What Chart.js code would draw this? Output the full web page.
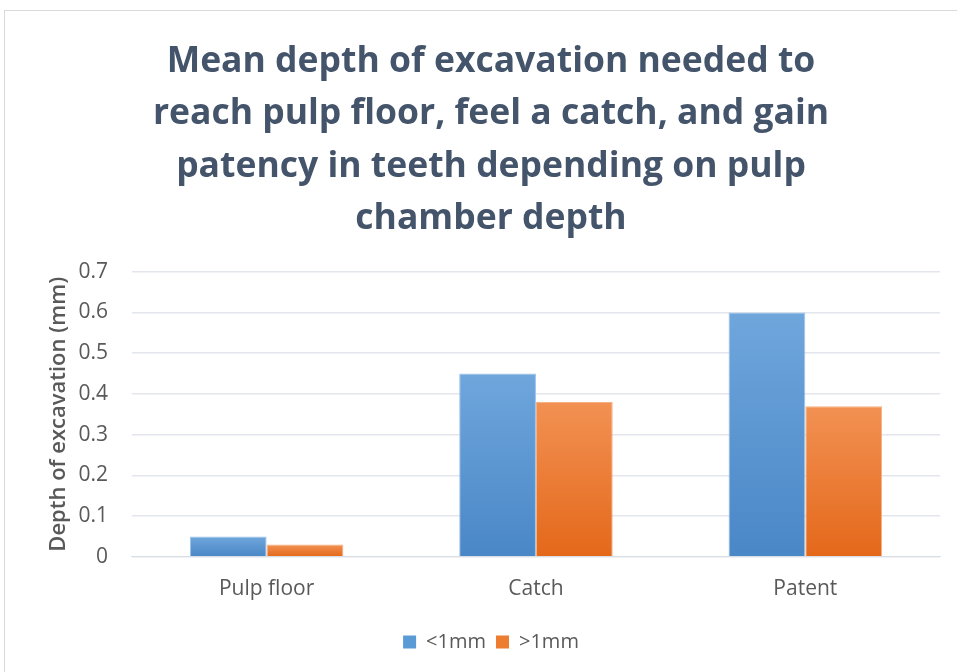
<!DOCTYPE html>
<html>
<head>
<meta charset="utf-8">
<script src="https://cdn.jsdelivr.net/npm/chart.js@4"></script>
<style>
  html, body { margin: 0; padding: 0; background: #ffffff; overflow: hidden; }
  #frame {
    position: absolute; left: 4px; top: 10px; width: 990px; height: 700px;
    border: 1px solid #d9d9d9; box-sizing: border-box; background: #ffffff;
  }
  #wrap { position: absolute; left: 4px; top: 10px; width: 968px; height: 662px; }
</style>
</head>
<body>
<div id="frame"></div>
<div id="wrap"><canvas id="c"></canvas></div>
<script>
// Categories and series values (mm)
const categories = ['Pulp floor', 'Catch', 'Patent'];
const under1mm = [0.05, 0.45, 0.60];
const over1mm = [0.03, 0.38, 0.37];
const yTickLabels = ['0', '0.1', '0.2', '0.3', '0.4', '0.5', '0.6', '0.7'];

const titleLines = [
  'Mean depth of excavation needed to',
  'reach pulp floor, feel a catch, and gain',
  'patency in teeth depending on pulp',
  'chamber depth'
];

// Vertical gradient per bar, light at the top, deeper at the base
function barGradient(light, dark) {
  return function (ctx) {
    const chart = ctx.chart;
    if (!chart.chartArea || ctx.type !== 'data') return dark;
    const ys = chart.scales.y;
    const v = ctx.dataset.data[ctx.dataIndex];
    const top = ys.getPixelForValue(v);
    const bottom = ys.getPixelForValue(0);
    if (!isFinite(top) || !isFinite(bottom) || top === bottom) return dark;
    const g = chart.ctx.createLinearGradient(0, top, 0, bottom);
    g.addColorStop(0, light);
    g.addColorStop(1, dark);
    return g;
  };
}

const tickFont = { family: 'Open Sans', size: 21 };

new Chart(document.getElementById('c'), {
  type: 'bar',
  data: {
    labels: categories,
    datasets: [
      {
        label: '<1mm',
        data: under1mm,
        backgroundColor: barGradient('#6fa6dc', '#4a87c7'),
        borderColor: '#9cc2e8',
        borderWidth: 1,
        borderSkipped: 'bottom'
      },
      {
        label: '>1mm',
        data: over1mm,
        backgroundColor: barGradient('#f29153', '#e4681a'),
        borderColor: '#f6b184',
        borderWidth: 1,
        borderSkipped: 'bottom'
      }
    ]
  },
  options: {
    responsive: true,
    maintainAspectRatio: false,
    animation: false,
    layout: { padding: { left: 38, right: 32, top: 14, bottom: 10 } },
    datasets: { bar: { categoryPercentage: 0.57, barPercentage: 1.0 } },
    plugins: {
      title: {
        display: true,
        text: titleLines,
        color: '#44546a',
        font: { family: 'Open Sans', size: 35.5, weight: 'bold', lineHeight: 1.47 },
        padding: { top: 12, bottom: 27 }
      },
      legend: {
        position: 'bottom',
        labels: {
          color: '#595959',
          font: { family: 'Open Sans', size: 20 },
          boxWidth: 13,
          boxHeight: 13,
          padding: 10,
          generateLabels(chart) {
            const solid = ['#5b9bd5', '#ed7d31'];
            return chart.data.datasets.map((ds, i) => ({
              text: ds.label,
              fillStyle: solid[i],
              strokeStyle: solid[i],
              lineWidth: 0,
              fontColor: '#595959',
              datasetIndex: i,
              hidden: false
            }));
          }
        }
      },
      tooltip: { enabled: false }
    },
    scales: {
      x: {
        grid: { display: false, drawTicks: false },
        border: { display: true, color: '#d9dde4', width: 1 },
        ticks: { color: '#595959', font: tickFont, padding: 20 }
      },
      y: {
        min: 0,
        max: 0.7,
        ticks: {
          stepSize: 0.1,
          color: '#595959',
          font: tickFont,
          padding: 24,
          callback: (v, i) => yTickLabels[i]
        },
        grid: { color: '#e3e6ec', lineWidth: 1.5, drawTicks: false },
        border: { display: false },
        title: {
          display: true,
          text: 'Depth of excavation (mm)',
          color: '#595959',
          font: { family: 'Open Sans', size: 22, weight: '600' },
          padding: { top: 4, bottom: -18 }
        }
      }
    }
  }
});
</script>
</body>
</html>
